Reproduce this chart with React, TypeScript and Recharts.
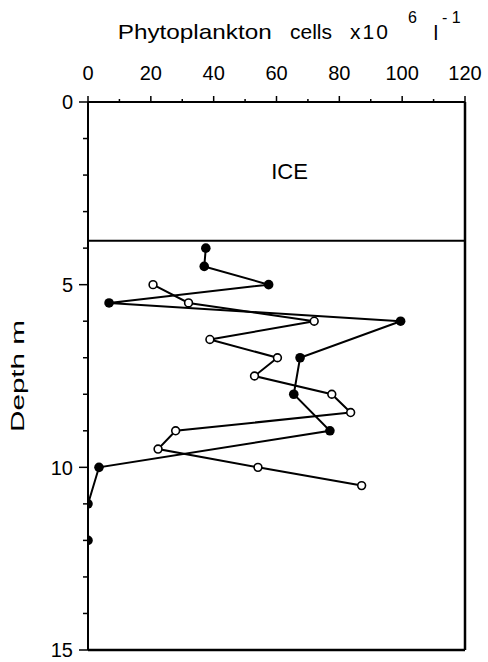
import { Label, ReferenceArea, ReferenceLine, Scatter, ScatterChart, XAxis, YAxis } from "recharts"

// depth (m) vs phytoplankton cells (x10^6 per litre)
const filledDepth = [4, 4.5, 5, 5.5, 6, 7, 8, 9, 10, 11, 12]
const filledCells = [37.5, 37, 57.5, 6.7, 99.5, 67.5, 65.5, 77, 3.5, 0, 0]

const openDepth = [5, 5.5, 6, 6.5, 7, 7.5, 8, 8.5, 9, 9.5, 10, 10.5]
const openCells = [20.7, 32, 72, 38.8, 60.3, 53, 77.6, 83.6, 27.9, 22.3, 54.1, 87.1]

const xTicks = [0, 10, 20, 30, 40, 50, 60, 70, 80, 90, 100, 110, 120]
const yTicks = [0, 1, 2, 3, 4, 5, 6, 7, 8, 9, 10, 11, 12, 13, 14, 15]
const iceDepth = 3.8

const FONT = '"Liberation Sans", Arial, Helvetica, sans-serif'

const filled = filledDepth.map((d, i) => ({ depth: d, cells: filledCells[i] }))
const open = openDepth.map((d, i) => ({ depth: d, cells: openCells[i] }))

function TopTick({ x, y, payload }: any) {
    const major = payload.value % 20 === 0
    return (
        <g>
            <line x1={x} x2={x} y1={y} y2={y - (major ? 6 : 3)} stroke="#000" strokeWidth={1.5} />
            {major && (
                <text x={x} y={y - 22} textAnchor="middle" fontSize={20} fontFamily={FONT} fill="#000">
                    {payload.value}
                </text>
            )}
        </g>
    )
}

function LeftTick({ x, y, payload }: any) {
    const major = payload.value % 5 === 0
    return (
        <g>
            <line x1={x} x2={x - (major ? 9 : 5)} y1={y} y2={y} stroke="#000" strokeWidth={1.5} />
            {major && (
                <text x={x - 15} y={y} dy="0.36em" textAnchor="end" fontSize={20} fontFamily={FONT} fill="#000">
                    {payload.value}
                </text>
            )}
        </g>
    )
}

const FilledDot = (p: any) => <circle cx={p.cx} cy={p.cy} r={4.8} fill="#000" />
const OpenDot = (p: any) => <circle cx={p.cx} cy={p.cy} r={3.9} fill="#fff" stroke="#000" strokeWidth={1.6} />

export default function App() {
    return (
        <div style={{ position: "absolute", left: 0, top: 0, width: 488, height: 662, background: "#fff" }}>
            <svg width={488} height={50} style={{ position: "absolute", left: 0, top: 0 }} fontFamily={FONT} fill="#000">
                <text x={117.7} y={38.8} fontSize={21} textLength={154} lengthAdjust="spacingAndGlyphs">Phytoplankton</text>
                <text x={290} y={38.8} fontSize={21}>cells</text>
                <text x={350} y={38.8} fontSize={21} letterSpacing={2}>x10</text>
                <text x={408} y={23} fontSize={16}>6</text>
                <text x={433.5} y={39.8} fontSize={21}>l</text>
                <text x={442} y={23} fontSize={16}>- 1</text>
            </svg>
            <ScatterChart width={488} height={662} margin={{ top: 62, right: 23, bottom: 12, left: 28 }}>
                <XAxis
                    type="number"
                    dataKey="cells"
                    orientation="top"
                    domain={[0, 120]}
                    ticks={xTicks}
                    height={40}
                    tickLine={false}
                    tickSize={0}
                    tickMargin={0}
                    tick={<TopTick />}
                    axisLine={{ stroke: "#000", strokeWidth: 2 }}
                    allowDataOverflow
                />
                <YAxis
                    type="number"
                    dataKey="depth"
                    reversed
                    domain={[0, 15]}
                    ticks={yTicks}
                    width={60}
                    tickLine={false}
                    tickSize={0}
                    tickMargin={0}
                    tick={<LeftTick />}
                    axisLine={{ stroke: "#000", strokeWidth: 2 }}
                    allowDataOverflow
                >
                    <Label
                        content={({ viewBox }: any) => {
                            const cx = viewBox.x - 10
                            const cy = viewBox.y + viewBox.height / 2
                            return (
                                <text
                                    x={cx}
                                    y={cy}
                                    transform={`rotate(-90 ${cx} ${cy})`}
                                    textAnchor="middle"
                                    dominantBaseline="central"
                                    fontSize={18}
                                    fontFamily={FONT}
                                    textLength={112}
                                    lengthAdjust="spacingAndGlyphs"
                                    fill="#000"
                                >
                                    Depth m
                                </text>
                            )
                        }}
                    />
                </YAxis>
                <ReferenceArea
                    x1={0}
                    x2={120}
                    y1={0}
                    y2={iceDepth}
                    fill="none"
                    stroke="none"
                    label={{
                        content: ({ viewBox }: any) => (
                            <text
                                x={viewBox.x + viewBox.width / 2 + 13}
                                y={viewBox.y + viewBox.height / 2}
                                dy="0.36em"
                                textAnchor="middle"
                                fontSize={22}
                                fontFamily={FONT}
                                fill="#000"
                            >
                                ICE
                            </text>
                        ),
                    }}
                />
                <ReferenceLine y={iceDepth} stroke="#000" strokeWidth={2} />
                <ReferenceLine x={120} stroke="#000" strokeWidth={2.5} />
                <ReferenceLine y={15} stroke="#000" strokeWidth={2.5} />
                <Scatter
                    data={filled}
                    line={{ stroke: "#000", strokeWidth: 2 }}
                    shape={FilledDot}
                    isAnimationActive={false}
                />
                <Scatter
                    data={open}
                    line={{ stroke: "#000", strokeWidth: 2 }}
                    shape={OpenDot}
                    isAnimationActive={false}
                />
            </ScatterChart>
        </div>
    )
}
